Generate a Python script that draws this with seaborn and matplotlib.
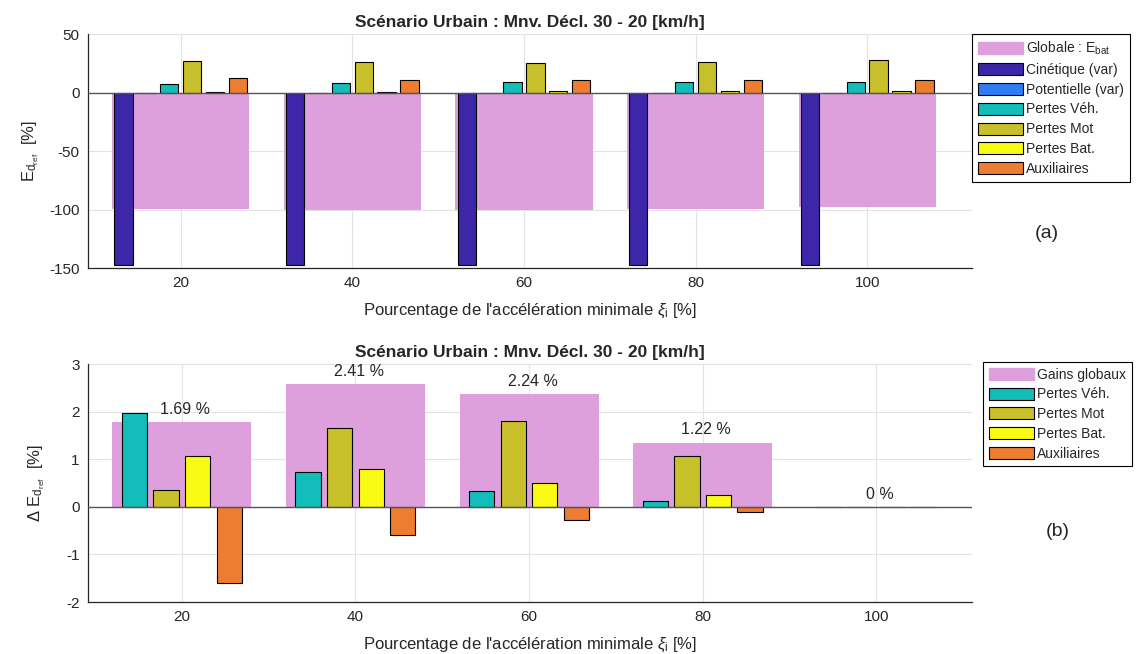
import numpy as np
import pandas as pd
import matplotlib
matplotlib.use("Agg")
import matplotlib.pyplot as plt
import seaborn as sns
from matplotlib.patches import Patch

sns.set_style("white")
plt.rcParams['font.family'] = ['Liberation Sans', 'DejaVu Sans']
plt.rcParams['mathtext.fontset'] = 'custom'
plt.rcParams['mathtext.rm'] = 'Liberation Sans'
plt.rcParams['mathtext.it'] = 'Liberation Sans:italic'
plt.rcParams['axes.unicode_minus'] = False

# Données
acc_pct = [20, 40, 60, 80, 100]

# (a) bilan énergétique
globale_ebat = [-99.6, -100.0, -100.0, -99.2, -98.2]
cinetique = [-147.5, -147.5, -147.5, -147.5, -147.5]
potentielle = [0.0, 0.0, 0.0, 0.0, 0.0]
pertes_veh_a = [7.6, 8.5, 9.3, 9.3, 9.3]
pertes_mot_a = [27.1, 25.7, 25.4, 26.3, 27.6]
pertes_bat_a = [0.3, 0.8, 0.9, 1.1, 1.3]
auxiliaires_a = [12.1, 11.0, 10.4, 10.4, 10.4]

# (b) gains
gains_globaux = [1.78, 2.58, 2.38, 1.35, 0.0]
gain_labels = ['1.69 %', '2.41 %', '2.24 %', '1.22 %', '0 %']
pertes_veh_b = [1.97, 0.74, 0.33, 0.13, 0.0]
pertes_mot_b = [0.36, 1.65, 1.81, 1.07, 0.0]
pertes_bat_b = [1.07, 0.79, 0.51, 0.25, 0.0]
auxiliaires_b = [-1.61, -0.60, -0.27, -0.10, 0.0]

series_a = ['Cinétique (var)', 'Potentielle (var)', 'Pertes Véh.', 'Pertes Mot', 'Pertes Bat.', 'Auxiliaires']
series_b = ['Pertes Véh.', 'Pertes Mot', 'Pertes Bat.', 'Auxiliaires']

colors = {
    'Cinétique (var)': '#3E26A8',
    'Potentielle (var)': '#2F7CF6',
    'Pertes Véh.': '#13BDB9',
    'Pertes Mot': '#C8C02A',
    'Pertes Bat.': '#F9FB15',
    'Auxiliaires': '#ED7D31',
}
pink = '#DDA0DD'


def long_df(names, values):
    rows = []
    for name, vals in zip(names, values):
        for x, v in zip(acc_pct, vals):
            rows.append({'x': x, 'serie': name, 'v': v})
    return pd.DataFrame(rows)


df_a = long_df(series_a, [cinetique, potentielle, pertes_veh_a, pertes_mot_a, pertes_bat_a, auxiliaires_a])
df_b = long_df(series_b, [pertes_veh_b, pertes_mot_b, pertes_bat_b, auxiliaires_b])

fig = plt.figure(figsize=(11.36, 6.54), dpi=100)
ax1 = fig.add_axes([0.0775, 0.590, 0.778, 0.358])
ax2 = fig.add_axes([0.0775, 0.0795, 0.778, 0.3635])

title = 'Scénario Urbain : Mnv. Décl. 30 - 20 [km/h]'
xlab = r"Pourcentage de l'accélération minimale $\xi_\mathrm{i}$ [%]"


def style_axes(ax):
    ax.set_axisbelow(True)
    ax.grid(True, color='#E3E3E3', lw=0.8)
    for s in ['top', 'right']:
        ax.spines[s].set_visible(False)
    for s in ['left', 'bottom']:
        ax.spines[s].set_color('#262626')
        ax.spines[s].set_linewidth(0.9)
    ax.tick_params(direction='in', length=4, width=0.8, colors='#262626', labelsize=11, pad=6)
    ax.set_xticks(acc_pct)
    ax.set_xticklabels([str(v) for v in acc_pct])
    ax.set_title(title, fontsize=12.5, fontweight='bold', pad=5)
    ax.set_xlabel(xlab, fontsize=12, color='#262626', labelpad=8)
    ax.axhline(0, color='#555555', lw=1.0, zorder=5)


# ---- (a)
sns.barplot(x=acc_pct, y=globale_ebat, native_scale=True, width=0.8, color=pink,
            saturation=1, errorbar=None, linewidth=0, ax=ax1)
sns.barplot(data=df_a, x='x', y='v', hue='serie', hue_order=series_a, native_scale=True,
            width=0.8, gap=0.2, palette=colors, saturation=1, errorbar=None,
            edgecolor='black', linewidth=0.8, legend=False, ax=ax1)
style_axes(ax1)
ax1.set_xlim(9.2, 112.2)
ax1.set_ylim(-150, 50)
ax1.set_yticks([-150, -100, -50, 0, 50])
ax1.set_ylabel(r'$\mathrm{E_{d_{ref}}}$  [%]', fontsize=12, color='#262626', labelpad=6)

handles_a = [Patch(facecolor=pink, edgecolor=pink, label=r'Globale : $\mathrm{E_{bat}}$')]
handles_a += [Patch(facecolor=colors[s], edgecolor='black', lw=0.8, label=s) for s in series_a]

# ---- (b)
sns.barplot(x=acc_pct, y=gains_globaux, native_scale=True, width=0.8, color=pink,
            saturation=1, errorbar=None, linewidth=0, ax=ax2)
sns.barplot(data=df_b, x='x', y='v', hue='serie', hue_order=series_b, native_scale=True,
            width=0.727, gap=0.2, palette=colors, saturation=1, errorbar=None,
            edgecolor='black', linewidth=0.8, legend=False, ax=ax2)
style_axes(ax2)
ax2.set_xlim(9.2, 111)
ax2.set_ylim(-2, 3)
ax2.set_yticks([-2, -1, 0, 1, 2, 3])
ax2.set_ylabel(r'$\mathrm{\Delta\ E_{d_{ref}}}$  [%]', fontsize=12, color='#262626', labelpad=14)
for x, g, lab in zip(acc_pct, gains_globaux, gain_labels):
    ax2.text(x + 0.4, g + 0.11, lab, ha='center', va='bottom', fontsize=11.5, color='#262626')

handles_b = [Patch(facecolor=pink, edgecolor=pink, label='Gains globaux')]
handles_b += [Patch(facecolor=colors[s], edgecolor='black', lw=0.8, label=s) for s in series_b]

leg_kw = dict(loc='upper left', borderaxespad=0, fontsize=10, frameon=True, fancybox=False,
              framealpha=1, edgecolor='black', handlelength=3.3, handleheight=0.95,
              handletextpad=0.2, labelspacing=0.42, borderpad=0.4)
lg1 = fig.legend(handles=handles_a, bbox_to_anchor=(972 / 1136, 1 - 34 / 654), **leg_kw)
lg2 = fig.legend(handles=handles_b, bbox_to_anchor=(983 / 1136, 1 - 362 / 654), **leg_kw)
for lg in (lg1, lg2):
    lg.get_frame().set_linewidth(0.8)

fig.text(1047 / 1136, 1 - 233 / 654, '(a)', ha='center', va='center', fontsize=14)
fig.text(1058 / 1136, 1 - 532 / 654, '(b)', ha='center', va='center', fontsize=14)

fig.savefig('out.png', dpi=100)
